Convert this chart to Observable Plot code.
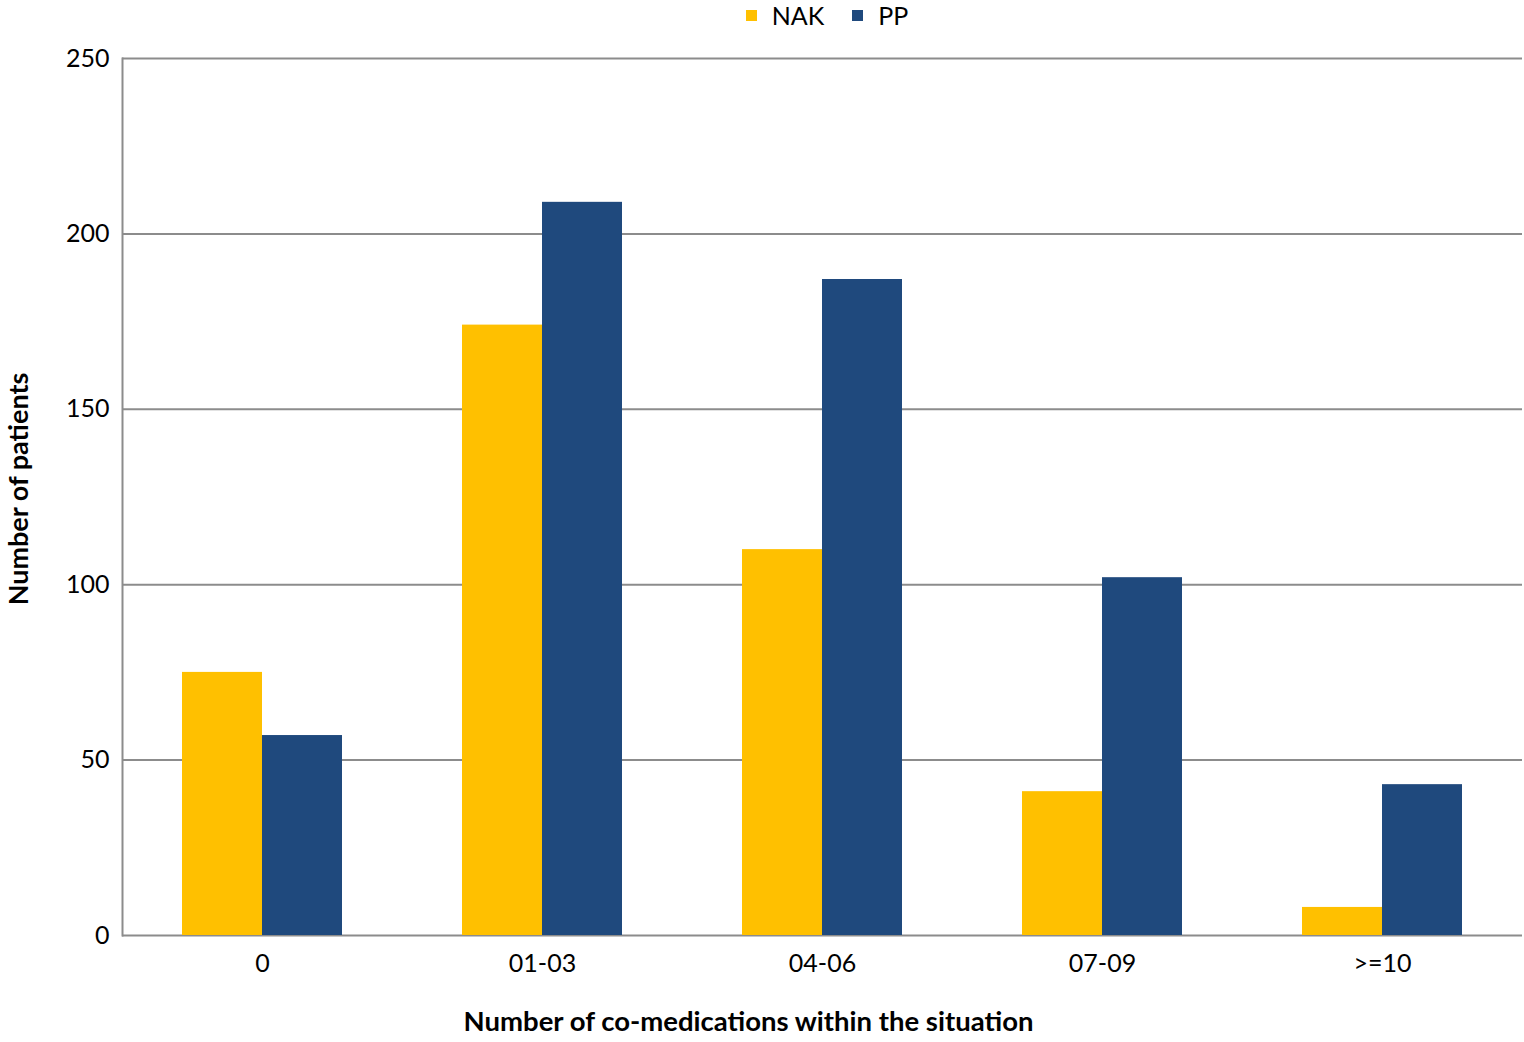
<!DOCTYPE html>
<html>
<head>
<meta charset="utf-8">
<script src="https://cdn.jsdelivr.net/npm/d3@7"></script>
<script src="https://cdn.jsdelivr.net/npm/@observablehq/plot@0.6"></script>
<style>
  html, body { margin: 0; padding: 0; background: #fff; }
  body { width: 1524px; height: 1042px; overflow: hidden; font-family: Lato, "Open Sans", sans-serif; }
  #legend { height: 30px; display: flex; justify-content: center; align-items: center; font-size: 25px; color: #000; padding-left: 130px; box-sizing: border-box; }
  .item { display: flex; align-items: center; margin: 0 14px; }
  .sw { width: 11px; height: 11px; margin-right: 15px; }
  #chart svg { display: block; }
</style>
</head>
<body>
<div id="legend"></div>
<div id="chart"></div>
<script>
const categories = ["0", "01-03", "04-06", "07-09", ">=10"];
const series = ["NAK", "PP"];
const nakValues = [75, 174, 110, 41, 8];
const ppValues = [57, 209, 187, 102, 43];
const yTicks = [0, 50, 100, 150, 200, 250];
const colors = ["#FFC000", "#1F497D"];
const xTitle = "Number of co-medications within the situation";
const yTitle = "Number of patients";

const data = [];
categories.forEach((c, i) => {
  data.push({category: c, series: "NAK", value: nakValues[i]});
  data.push({category: c, series: "PP", value: ppValues[i]});
});

const legend = document.getElementById("legend");
series.forEach((s, i) => {
  const item = document.createElement("div");
  item.className = "item";
  const sw = document.createElement("span");
  sw.className = "sw";
  sw.style.background = colors[i];
  const t = document.createElement("span");
  t.textContent = s;
  item.appendChild(sw); item.appendChild(t);
  legend.appendChild(item);
});

const gray = "#8c8c8c";
const chart = Plot.plot({
  width: 1524,
  height: 1012,
  marginTop: 28,
  marginBottom: 107,
  marginLeft: 122,
  marginRight: 2,
  style: {fontFamily: "Lato, 'Open Sans', sans-serif", fontSize: "25px", color: "#000", background: "#fff"},
  x: {domain: categories, paddingInner: 120 / 280, paddingOuter: 60 / 280, label: null},
  y: {domain: [0, 250], label: null},
  color: {domain: series, range: colors},
  marks: [
    Plot.ruleY(yTicks, {stroke: gray, strokeWidth: 2}),
    Plot.frame({anchor: "left", stroke: gray, strokeWidth: 2}),
    Plot.barY(data.filter(d => d.series === "NAK"), {x: "category", y: "value", fill: "series", insetRight: 80}),
    Plot.barY(data.filter(d => d.series === "PP"), {x: "category", y: "value", fill: "series", insetLeft: 80}),
    Plot.axisY({ticks: yTicks, tickSize: 0, tickPadding: 13, fontSize: 25, label: null}),
    Plot.axisX({tickSize: 0, tickPadding: 19, fontSize: 25, label: null}),
    Plot.text([xTitle], {text: d => d, frameAnchor: "bottom", dx: -74, dy: 87, lineAnchor: "middle", fontSize: 27.5, fontWeight: "bold", fill: "#000"}),
    Plot.text([yTitle], {text: d => d, frameAnchor: "left", dx: -103, dy: -8, rotate: -90, textAnchor: "middle", lineAnchor: "middle", fontSize: 27, fontWeight: "bold", fill: "#000"})
  ]
});
document.getElementById("chart").appendChild(chart);
</script>
</body>
</html>
